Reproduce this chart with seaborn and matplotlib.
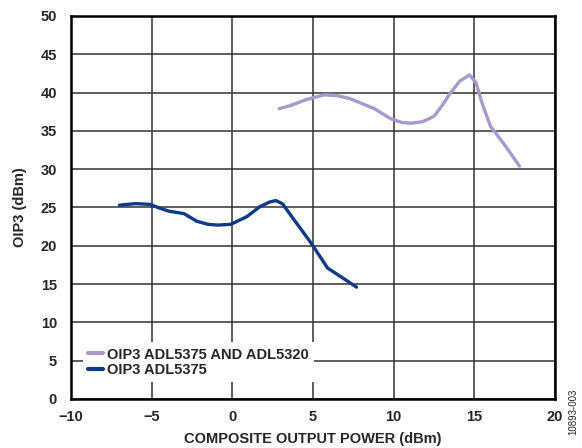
import matplotlib
matplotlib.use("Agg")
import matplotlib.pyplot as plt
import seaborn as sns
import pandas as pd

# OIP3 vs composite output power
power_combo = [2.9, 3.6, 4.6, 5.7, 6.5, 7.3, 8.0, 8.8, 9.8, 10.5, 11.1, 11.8, 12.5, 13.0,
               13.5, 14.1, 14.7, 15.1, 15.5, 16.0, 16.8, 17.8]
oip3_combo = [37.9, 38.3, 39.1, 39.7, 39.6, 39.2, 38.6, 37.9, 36.6, 36.1, 36.0, 36.2, 36.9, 38.3,
              39.9, 41.5, 42.3, 41.3, 38.5, 35.6, 33.4, 30.4]

power_5375 = [-7.0, -6.0, -5.1, -4.5, -3.9, -3.0, -2.2, -1.5, -0.9, -0.1, 0.9, 1.7, 2.3, 2.7,
              3.1, 4.0, 4.9, 5.9, 6.7, 7.7]
oip3_5375 = [25.3, 25.5, 25.4, 24.9, 24.5, 24.2, 23.2, 22.8, 22.7, 22.8, 23.8, 25.1, 25.7, 25.9,
             25.5, 22.9, 20.3, 17.1, 16.0, 14.6]

label_combo = "OIP3 ADL5375 AND ADL5320"
label_5375 = "OIP3 ADL5375"

x_ticks = [-10, -5, 0, 5, 10, 15, 20]
x_tick_labels = ["\u221210", "\u22125", "0", "5", "10", "15", "20"]
y_ticks = [0, 5, 10, 15, 20, 25, 30, 35, 40, 45, 50]

df = pd.concat([
    pd.DataFrame({"power": power_combo, "oip3": oip3_combo, "series": label_combo}),
    pd.DataFrame({"power": power_5375, "oip3": oip3_5375, "series": label_5375}),
], ignore_index=True)

sns.set_style("white")
plt.rcParams["font.family"] = ["Liberation Sans", "DejaVu Sans"]

fig = plt.figure(figsize=(5.82, 4.48), dpi=100)
ax = fig.add_axes([0.122, 0.1094, 0.8316, 0.855])

sns.lineplot(data=df, x="power", y="oip3", hue="series",
             palette={label_combo: "#A899CE", label_5375: "#0E3A87"},
             linewidth=2.4, sort=False, estimator=None, ax=ax)

ax.set_xlim(-10, 20)
ax.set_ylim(0, 50)
ax.set_xticks(x_ticks)
ax.set_xticklabels(x_tick_labels)
ax.set_yticks(y_ticks)
ax.grid(True, color="#333333", linewidth=1.1)
ax.set_axisbelow(True)
for s in ax.spines.values():
    s.set_visible(True)
    s.set_color("black")
    s.set_linewidth(1.8)
ax.tick_params(axis="x", length=0, pad=8, labelsize=10.5)
ax.tick_params(axis="y", length=0, pad=10, labelsize=10.5)
for t in ax.get_xticklabels() + ax.get_yticklabels():
    t.set_fontweight("bold")

ax.set_xlabel("COMPOSITE OUTPUT POWER (dBm)", fontsize=10.5, fontweight="bold", labelpad=6)
ax.set_ylabel("OIP3 (dBm)", fontsize=10.5, fontweight="bold", labelpad=10)

leg = ax.legend(loc="lower left", bbox_to_anchor=(0.01, 0.025), frameon=True,
                fancybox=False, framealpha=1.0, edgecolor="white",
                handlelength=1.0, handletextpad=0.3, labelspacing=0.1,
                borderpad=0.35, prop={"weight": "bold", "size": 10.5})
leg.get_frame().set_linewidth(0)
for line in leg.get_lines():
    line.set_linewidth(3)

fig.text(0.985, 0.03, "10893-003", rotation=90, fontsize=7, ha="center", va="bottom")

fig.savefig("out.png", dpi=100)
